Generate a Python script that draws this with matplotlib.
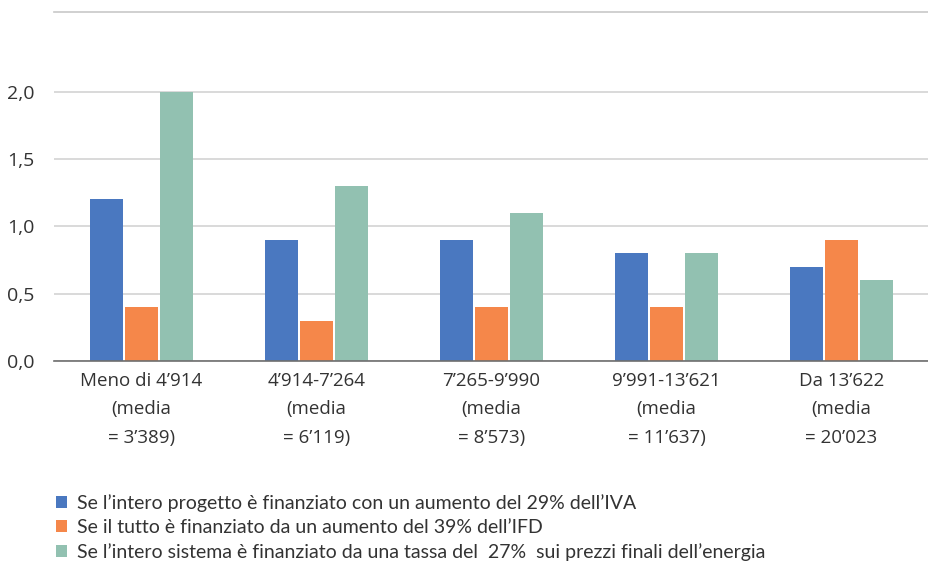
import matplotlib.pyplot as plt
import numpy as np

# Data
categories = ["Meno di 4’914\n(media\n= 3’389)",
              "4’914-7’264\n(media\n= 6’119)",
              "7’265-9’990\n(media\n= 8’573)",
              "9’991-13’621\n(media\n= 11’637)",
              "Da 13’622\n(media\n= 20’023"]
iva = [1.2, 0.9, 0.9, 0.8, 0.7]
ifd = [0.4, 0.3, 0.4, 0.4, 0.9]
energia = [2.0, 1.3, 1.1, 0.8, 0.6]
series_labels = ["Se l’intero progetto è finanziato con un aumento del 29% dell’IVA",
                 "Se il tutto è finanziato da un aumento del 39% dell’IFD",
                 "Se l’intero sistema è finanziato da una tassa del  27%  sui prezzi finali dell’energia"]
yticks = [0.0, 0.5, 1.0, 1.5, 2.0]

colors = ["#4A78C0", "#F5874A", "#92C1B1"]

fig = plt.figure(figsize=(9.29, 5.63), dpi=100)
ax = fig.add_axes([0.058, 0.359, 0.942, 0.62])

x = np.arange(len(categories))
w = 0.19
step = 0.2
for i, (vals, c, lab) in enumerate(zip([iva, ifd, energia], colors, series_labels)):
    ax.bar(x + (i - 1) * step, vals, width=w, color=c, label=lab, zorder=3)

ax.set_xlim(-0.5, len(categories) - 0.5)
ax.set_ylim(0, 2.595)
ax.set_yticks(yticks)
ax.set_yticklabels([f"{v:.1f}".replace(".", ",") for v in yticks], fontsize=14,
                   family="Open Sans", color="#333333")
ax.set_xticks(x)
ax.set_xticklabels(categories, fontsize=13.5, family="Open Sans", color="#333333",
                   linespacing=1.75)
ax.tick_params(axis="both", length=0)
ax.tick_params(axis="x", pad=8)
ax.tick_params(axis="y", pad=14)

ax.grid(axis="y", color="#D3D3D3", linewidth=1.2, zorder=0)
for s in ["left", "right"]:
    ax.spines[s].set_visible(False)
ax.spines["top"].set_color("#C8C8C8")
ax.spines["top"].set_linewidth(1.2)
ax.spines["bottom"].set_color("#6E6E6E")
ax.spines["bottom"].set_linewidth(1.2)
ax.spines["bottom"].set_zorder(4)

handles, labels = ax.get_legend_handles_labels()
fig.legend(handles, labels, loc="lower left", bbox_to_anchor=(0.041, -0.027),
           frameon=False, handlelength=0.6, handleheight=0.6, handletextpad=0.5,
           labelspacing=0.36, prop={"family": "Lato", "size": 14},
           labelcolor="#333333")

fig.savefig("out.png", dpi=100)
